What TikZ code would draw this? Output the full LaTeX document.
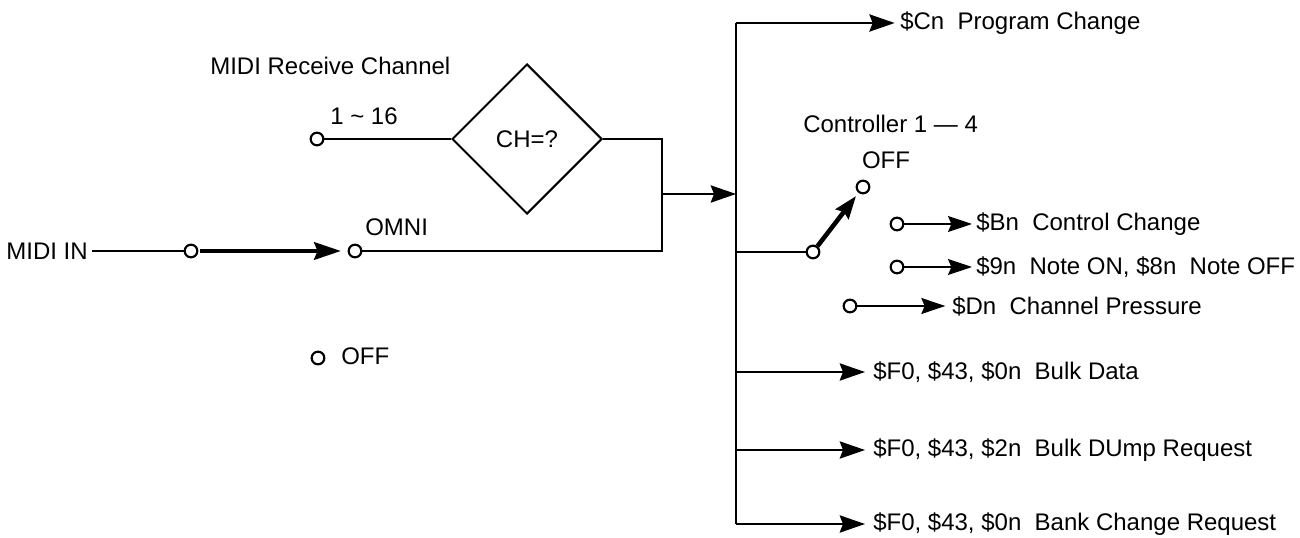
\documentclass[tikz,border=0pt]{standalone}
\usepackage{fontspec}
\setmainfont{Liberation Sans}
\usetikzlibrary{arrows.meta,shapes.geometric}
\begin{document}
\begin{tikzpicture}[x=0.75pt,y=-0.75pt,
  every node/.style={font=\fontsize{18}{21}\selectfont},
  wire/.style={line width=1.2pt},
  port/.style={circle,draw,line width=1.6pt,fill=white,inner sep=0pt,minimum size=9.5pt},
  lbl/.style={anchor=west,inner sep=0pt},
  arr/.style={wire,-{Stealth[length=19pt,width=13pt,inset=2.5pt]}},
  sarr/.style={wire,-{Stealth[length=18pt,width=12pt,inset=2.5pt]}},
  thickarr/.style={line width=3.4pt,-{Stealth[length=20pt,width=13pt,inset=2.5pt]}}]
\useasboundingbox (0,0) rectangle (1300,538);

% left part
\node[lbl] (mrc) at (210,66) {MIDI Receive Channel};
\node[lbl] (r116) at (330,116) {1 \~{} 16};
\node[port] (c116) at (317,139) {};
\node[diamond,draw,line width=1.5pt,minimum width=112.5pt,minimum height=112.5pt,inner sep=0pt] (ch) at (527,139) {CH=?};
\node[anchor=east,inner sep=0pt] (midiin) at (88,251) {MIDI IN};
\node[port] (cin) at (191,251) {};
\node[port] (comni) at (355,251) {};
\node[lbl] (omni) at (365,227) {OMNI};
\node[port] (coff) at (318,358) {};
\node[lbl] (off) at (341,356) {OFF};

\coordinate (jt) at (662,139);
\coordinate (jb) at (662,251);
\coordinate (jm) at (662,194);
\coordinate (btop) at (736,23);
\coordinate (bbot) at (736,524);

\draw[wire] (c116) -- (ch.west);
\draw[wire] (ch.east) -- (jt) -- (jb) -- (comni);
\draw[wire] ([xshift=3pt]midiin.east) -- (cin);
\draw[thickarr,shorten <=1pt,shorten >=5pt] (cin) -- (comni);
\draw[arr] (jm) -- (jm -| btop);

% bus
\draw[wire] (btop) -- (bbot);

% program change
\node[lbl] (pc) at (900,23) {\$Cn\ \ Program Change};
\draw[arr,shorten >=4pt] (btop) -- (pc.west);

% controller switch
\node[lbl] (ctl) at (803,124) {Controller 1 — 4};
\node (offc) at (886,160) {OFF};
\node[port] (sw) at (813,252) {};
\node[port] (swoff) at (863,187) {};
\draw[wire] (sw -| btop) -- (sw);
\draw[line width=3.4pt,-{Stealth[length=17pt,width=12pt,inset=2pt]},shorten >=3pt] (sw) -- (swoff);

\node[port] (pb) at (897,224) {};
\node[lbl] (tb) at (976,224) {\$Bn\ \ Control Change};
\draw[sarr,shorten >=3pt] (pb) -- (tb.west);

\node[port] (pn) at (897,267) {};
\node[lbl] (tn) at (976,267) {\$9n\ \ Note ON, \$8n\ \ Note OFF};
\draw[sarr,shorten >=3pt] (pn) -- (tn.west);

\node[port] (pd) at (850,306) {};
\node[lbl] (td) at (952,306) {\$Dn\ \ Channel Pressure};
\draw[sarr,shorten >=5pt] (pd) -- (td.west);

% system exclusive rows
\node[lbl] (tbd) at (873,372) {\$F0, \$43, \$0n\ \ Bulk Data};
\node[lbl] (tdr) at (873,450) {\$F0, \$43, \$2n\ \ Bulk DUmp Request};
\node[lbl] (tbc) at (873,524) {\$F0, \$43, \$0n\ \ Bank Change Request};
\draw[arr,shorten >=6pt] (tbd.west -| btop) -- (tbd.west);
\draw[arr,shorten >=6pt] (tdr.west -| btop) -- (tdr.west);
\draw[arr,shorten >=6pt] (bbot) -- (tbc.west);
\end{tikzpicture}
\end{document}
